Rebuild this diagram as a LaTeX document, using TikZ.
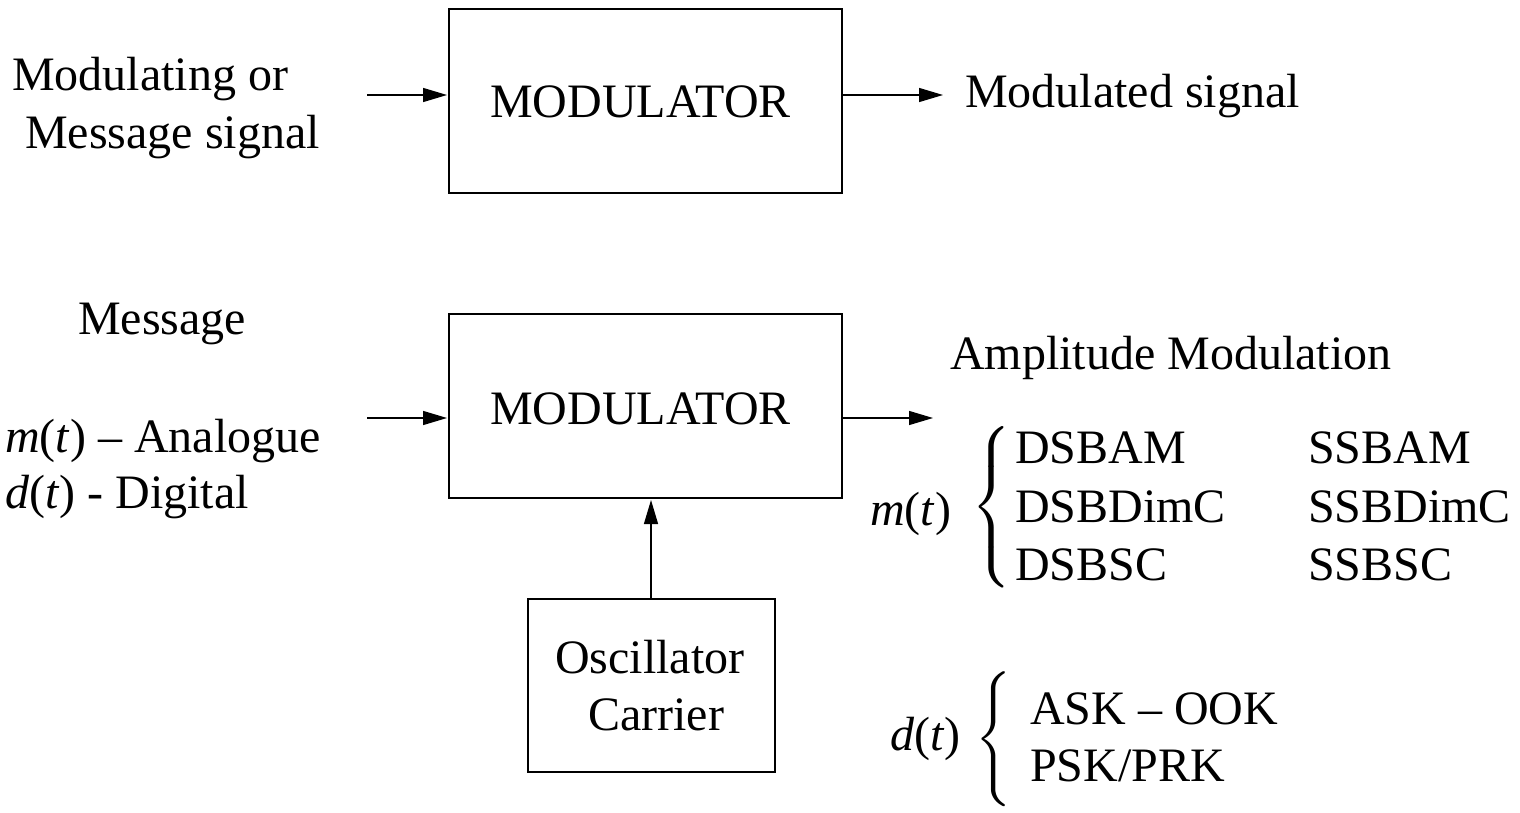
\documentclass[tikz,border=0pt]{standalone}
\usepackage{fontspec}
\setmainfont{Liberation Serif}
\usetikzlibrary{arrows.meta}
\begin{document}
\begin{tikzpicture}[x=1pt,y=-1pt,
  every node/.style={inner sep=0pt,font=\fontsize{48}{57.6}\selectfont},
  blk/.style={draw,line width=1.5pt},
  arr/.style={line width=1.3pt,-{Triangle[length=24pt,width=14pt]}},
  lbl/.style={anchor=base west},
  brc/.style={font=\normalsize}]
\useasboundingbox (0,0) rectangle (1520,813);
% top
\draw[blk] (449,9) rectangle (842,193);
\node[lbl] (mod1) at (490,118) {MODULATOR};
\node[lbl] (in1a) at (12,91) {Modulating or};
\node[lbl] (in1b) at (25,149) {Message signal};
\node[lbl] (out1) at (965,108) {Modulated signal};
\coordinate (a1s) at (367,95);
\coordinate (a1e) at (447,95);
\coordinate (b1s) at (842,95);
\coordinate (b1e) at (943,95);
\draw[arr] (a1s) -- (a1e);
\draw[arr] (b1s) -- (b1e);
% bottom
\draw[blk] (449,314) rectangle (842,498);
\node[lbl] (mod2) at (490,424) {MODULATOR};
\node[lbl] (msg) at (78,334) {Message};
\node[lbl] (ana) at (5,452) {\textit{m}(\textit{t}) – Analogue};
\node[lbl] (dig) at (5,508) {\textit{d}(\textit{t}) - Digital};
\coordinate (a2s) at (367,418);
\coordinate (a2e) at (447,418);
\coordinate (b2s) at (842,418);
\coordinate (b2e) at (933,418);
\draw[arr] (a2s) -- (a2e);
\draw[arr] (b2s) -- (b2e);
\draw[blk] (528,599) rectangle (775,772);
\node[lbl] (osc) at (555,673) {Oscillator};
\node[lbl] (car) at (588,730) {Carrier};
\coordinate (cs) at (651,599);
\coordinate (ce) at (651,500);
\draw[arr] (cs) -- (ce);
\node[lbl] (am) at (950,369) {Amplitude Modulation};
\node[lbl] (mt) at (870,525) {\textit{m}(\textit{t})};
\node[brc] (br1) at (994,507) {\scalebox{4.5}{$\left\{\rule[-15pt]{0pt}{30pt}\right.$}};
\node[lbl] (d1) at (1015,463) {DSBAM};
\node[lbl] (d2) at (1015,522) {DSBDimC};
\node[lbl] (d3) at (1015,580) {DSBSC};
\node[lbl] (s1) at (1308,463) {SSBAM};
\node[lbl] (s2) at (1308,522) {SSBDimC};
\node[lbl] (s3) at (1308,580) {SSBSC};
\node[lbl] (dt) at (890,750) {\textit{d}(\textit{t})};
\node[brc] (br2) at (996,741) {\scalebox{4.5}{$\left\{\rule[-13.5pt]{0pt}{27pt}\right.$}};
\node[lbl] (k1) at (1030,724) {ASK – OOK};
\node[lbl] (k2) at (1030,781) {PSK/PRK};
\end{tikzpicture}
\end{document}
